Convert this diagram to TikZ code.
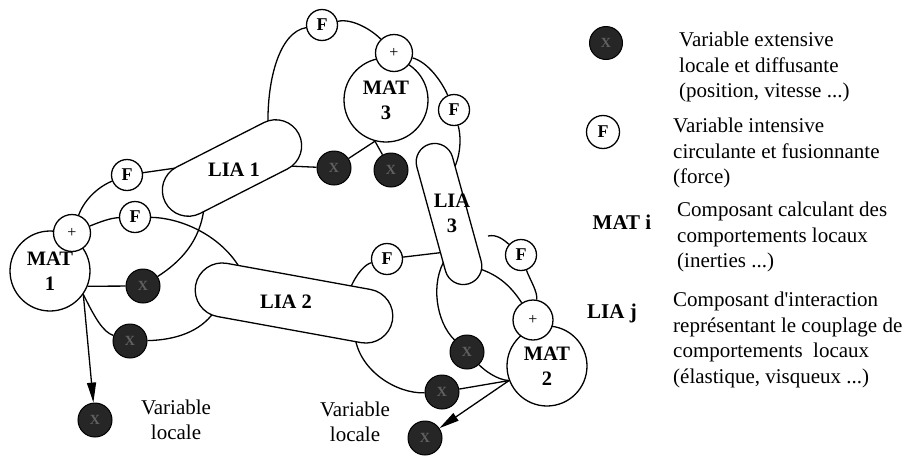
\documentclass[tikz,border=0pt]{standalone}
\usepackage{fontspec}
\setmainfont{Liberation Serif}[Ligatures=TeXOff]
\usetikzlibrary{shapes.misc,arrows.meta}
\pgfdeclarelayer{bg}
\pgfsetlayers{bg,main}
\begin{document}
\begin{tikzpicture}[x=1pt,y=-1pt,
  ln/.style={line width=1.3pt},
  matc/.style={circle,draw,line width=1.3pt,fill=white,inner sep=0pt,align=center,font=\fontsize{20.5}{25}\selectfont\bfseries},
  plusc/.style={circle,draw,line width=1.3pt,fill=white,inner sep=0pt,minimum size=37pt,font=\fontsize{16}{16}\selectfont},
  fc/.style={circle,draw,line width=1.3pt,fill=white,inner sep=0pt,minimum size=31pt,font=\fontsize{18}{18}\selectfont\bfseries},
  dotc/.style={circle,draw=black,line width=1pt,fill=black!85,inner sep=0pt,minimum size=34pt,text=black!62,font=\fontsize{14}{14}\selectfont\bfseries},
  liac/.style={rounded rectangle,draw,line width=1.3pt,fill=white,inner sep=0pt},
  lbl/.style={font=\fontsize{20.5}{25}\selectfont\bfseries,align=center,inner sep=0pt},
  txt/.style={font=\fontsize{21}{25.5}\selectfont,align=left,inner sep=0pt,anchor=west},
  vtxt/.style={font=\fontsize{21}{25}\selectfont,align=center,inner sep=0pt},
  arr/.style={line width=1.3pt,-{Triangle[length=20pt,width=9pt]}}
]
\useasboundingbox (0,0) rectangle (908,464);

% MAT components
\node[matc,minimum size=84pt] (m3) at (386,100) {MAT\\3};
\node[matc,minimum size=80pt] (m1) at (50,271) {MAT\\1};
\node[matc,minimum size=80pt] (m2) at (547,366) {MAT\\2};

% plus circles
\node[plusc] (p3) at (394,53) {+};
\node[plusc] (p1) at (72,233) {+};
\node[plusc,minimum size=40pt] (p2) at (533,320) {+};

% F circles
\node[fc] (ft) at (322,25) {F};
\node[fc] (f3) at (454,110) {F};
\node[fc] (f1) at (127,175) {F};
\node[fc] (f1b) at (135,217) {F};
\node[fc] (f2l) at (387,259) {F};
\node[fc] (f2r) at (521,255) {F};

% extensive variables (dark dots)
\node[dotc] (d3a) at (334,168) {X};
\node[dotc] (d3b) at (391,170) {X};
\node[dotc] (d1a) at (143,286) {X};
\node[dotc] (d1b) at (130,341) {X};
\node[dotc] (d2a) at (467,352) {X};
\node[dotc] (d2b) at (442,392) {X};
\node[dotc] (t1) at (95,420) {X};
\node[dotc] (t2) at (425,438) {X};

% LIA capsules
\node[liac,minimum width=150pt,minimum height=52pt,rotate=27] (lia1) at (232,168) {};
\node[lbl] (lia1t) at (234,170) {LIA 1};
\node[liac,minimum width=200pt,minimum height=54pt,rotate=-10.3] (lia2) at (294,303) {};
\node[lbl] (lia2t) at (286,302) {LIA 2};
\node[liac,minimum width=145pt,minimum height=37pt,rotate=-74.6] (lia3) at (449,214) {};
\node[lbl] (lia3t) at (452,213) {LIA\\3};

% local variable labels
\node[vtxt] (vl1) at (176,420) {Variable\\locale};
\node[vtxt] (vl2) at (355,422) {Variable\\locale};

% legend
\node[dotc,minimum size=33pt] (legd) at (606,43) {X};
\node[fc,minimum size=33pt] (legf) at (603,132) {F};
\node[lbl,font=\fontsize{21}{25}\selectfont\bfseries] (legm) at (622,222) {MAT i};
\node[lbl,font=\fontsize{21}{25}\selectfont\bfseries] (legl) at (612,313) {LIA j};
\node[txt] (tx1) at (679,67) {Variable extensive\\locale et diffusante\\(position, vitesse ...)};
\node[txt] (tx2) at (673,153) {Variable intensive\\circulante et fusionnante\\(force)};
\node[txt] (tx3) at (677,237) {Composant calculant des\\comportements locaux\\(inerties ...)};
\node[txt] (tx4) at (673,340) {Composant d'interaction\\représentant le couplage de\\comportements\ \ locaux\\(élastique, visqueux ...)};

\begin{pgfonlayer}{bg}
  \fill[white] (0,0) rectangle (908,464);
  % MAT3 loop
  \coordinate (l1t) at (268,126);
  \draw[ln] (l1t) .. controls (267,78) and (280,32) .. (ft);
  \draw[ln] (ft) .. controls (352,18) and (372,30) .. (p3);
  \draw[ln] (p3) .. controls (428,62) and (442,82) .. (f3);
  \coordinate (l3a) at (451,174);
  \draw[ln] (f3) .. controls (462,140) and (460,160) .. (l3a);
  \coordinate (l1r) at (288,166);
  \draw[ln] (l1r) -- (d3a);
  \draw[ln] (d3a) -- (m3.255);
  \draw[ln] (m3.255) -- (d3b);
  % MAT1 region
  \coordinate (l1l) at (176,168);
  \draw[ln] (f1) -- (l1l);
  \draw[ln] (p1) .. controls (85,198) and (100,186) .. (f1);
  \draw[ln] (p1) .. controls (100,222) and (110,218) .. (f1b);
  \coordinate (l2a) at (241,270);
  \draw[ln] (f1b) .. controls (182,218) and (222,236) .. (l2a);
  \coordinate (l1b) at (204,208);
  \draw[ln] (l1b) .. controls (200,242) and (180,262) .. (d1a);
  \draw[ln] (m1.-22) -- (d1a);
  \draw[ln] (m1.-35) .. controls (95,318) and (103,332) .. (d1b);
  \coordinate (l2b) at (214,312);
  \draw[ln] (d1b) .. controls (175,340) and (200,332) .. (l2b);
  \draw[arr] (m1.-35) -- (t1);
  % MAT2 region
  \coordinate (l2c) at (350,289);
  \draw[ln] (l2c) .. controls (357,272) and (366,264) .. (f2l);
  \coordinate (l3b) at (446,252);
  \draw[ln] (f2l) -- (l3b);
  \coordinate (l3c) at (446,258);
  \draw[ln] (l3c) .. controls (430,282) and (436,322) .. (d2a);
  \draw[ln] (d2a) .. controls (484,370) and (497,380) .. (m2.201);
  \coordinate (l3d) at (477,268);
  \draw[ln] (l3d) .. controls (500,275) and (512,288) .. (p2);
  \coordinate (c2o) at (488,236);
  \draw[ln] (c2o) .. controls (497,234) and (504,240) .. (f2r);
  \draw[ln] (f2r) .. controls (530,280) and (538,292) .. (p2);
  \coordinate (l2d) at (355,337);
  \draw[ln] (l2d) .. controls (360,372) and (398,394) .. (d2b);
  \draw[ln] (d2b) -- (m2.201);
  \draw[arr] (m2.201) -- (t2);
\end{pgfonlayer}
\end{tikzpicture}
\end{document}
